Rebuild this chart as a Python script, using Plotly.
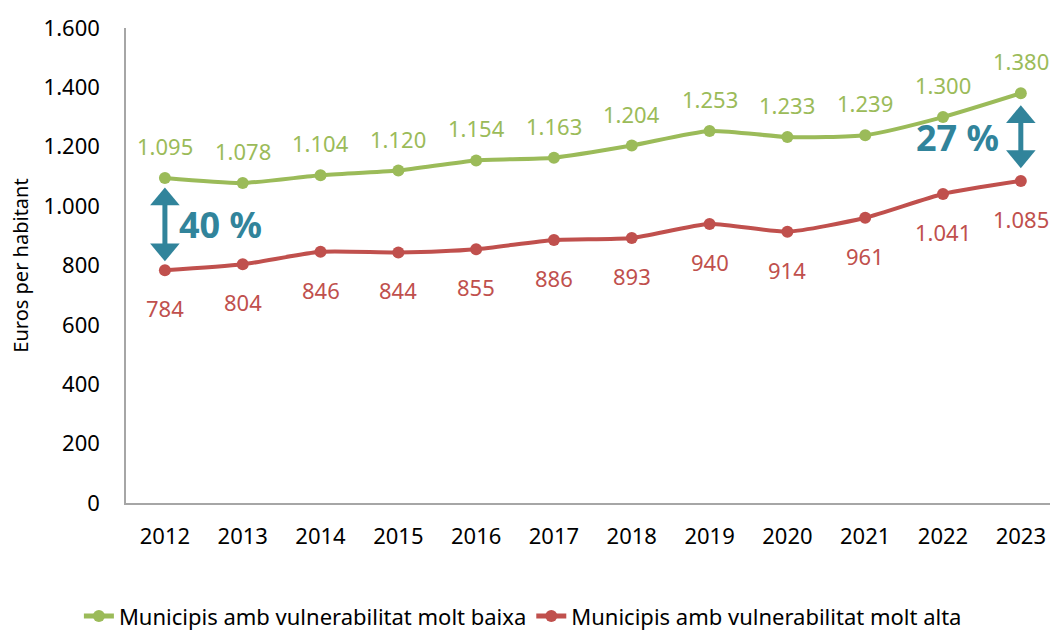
import plotly.graph_objects as go

years = ["2012", "2013", "2014", "2015", "2016", "2017", "2018", "2019", "2020", "2021", "2022", "2023"]
baixa = [1095, 1078, 1104, 1120, 1154, 1163, 1204, 1253, 1233, 1239, 1300, 1380]
alta = [784, 804, 846, 844, 855, 886, 893, 940, 914, 961, 1041, 1085]
y_ticks = [0, 200, 400, 600, 800, 1000, 1200, 1400, 1600]
y_tick_labels = ["0", "200", "400", "600", "800", "1.000", "1.200", "1.400", "1.600"]
gap_labels = ["40 %", "27 %"]

GREEN = "#9BBB59"
RED = "#C0504D"
TEAL = "#31849B"
FONT = "Noto Sans"
FS = 22

def fmt(v):
    return f"{v:,}".replace(",", ".")

xs = list(range(len(years)))

fig = go.Figure()
fig.add_trace(go.Scatter(
    x=xs, y=baixa, mode="lines+markers",
    name="Municipis amb vulnerabilitat molt baixa",
    line=dict(color=GREEN, width=4, shape="spline", smoothing=0.6),
    marker=dict(color=GREEN, size=12), cliponaxis=False,
))
fig.add_trace(go.Scatter(
    x=xs, y=alta, mode="lines+markers",
    name="Municipis amb vulnerabilitat molt alta",
    line=dict(color=RED, width=4, shape="spline", smoothing=0.6),
    marker=dict(color=RED, size=12), cliponaxis=False,
))

# data labels
for i, v in enumerate(baixa):
    fig.add_annotation(x=i, y=v, xref="x", yref="y", text=fmt(v), showarrow=False,
                       yshift=32, font=dict(color=GREEN, size=FS, family=FONT))
for i, v in enumerate(alta):
    fig.add_annotation(x=i, y=v, xref="x", yref="y", text=fmt(v), showarrow=False,
                       yshift=-38, font=dict(color=RED, size=FS, family=FONT))

# double-headed arrows showing the gap (style offsets in data units)
GAP_TOP = 32
GAP_BOT = 30
HEAD_H = 60
HEAD_HW = 0.19
shapes = []
for i in (0, len(years) - 1):
    top = baixa[i] - GAP_TOP - (8 if i else 0)
    bot = alta[i] + GAP_BOT + (13 if i else 0)
    shapes.append(dict(type="line", x0=i, x1=i, y0=bot + HEAD_H - 5, y1=top - HEAD_H + 5,
                       xref="x", yref="y", line=dict(color=TEAL, width=5)))
    shapes.append(dict(type="path", xref="x", yref="y",
                       path=f"M {i - HEAD_HW} {top - HEAD_H} L {i + HEAD_HW} {top - HEAD_H} L {i} {top} Z",
                       fillcolor=TEAL, line=dict(color=TEAL, width=0)))
    shapes.append(dict(type="path", xref="x", yref="y",
                       path=f"M {i - HEAD_HW} {bot + HEAD_H} L {i + HEAD_HW} {bot + HEAD_H} L {i} {bot} Z",
                       fillcolor=TEAL, line=dict(color=TEAL, width=0)))

fig.add_annotation(x=0.16, y=(baixa[0] + alta[0]) / 2, xref="x", yref="y",
                   text="<b>" + gap_labels[0] + "</b>", showarrow=False,
                   xanchor="left", yanchor="middle", font=dict(color=TEAL, size=36, family=FONT))
fig.add_annotation(x=10.74, y=(baixa[11] + alta[11]) / 2, xref="x", yref="y",
                   text="<b>" + gap_labels[1] + "</b>", showarrow=False,
                   xanchor="right", yanchor="middle", font=dict(color=TEAL, size=36, family=FONT))

fig.update_layout(
    width=1050, height=632,
    margin=dict(l=126, r=0, t=28, b=129),
    paper_bgcolor="white", plot_bgcolor="white",
    font=dict(family=FONT, size=FS, color="#000000"),
    showlegend=True,
    shapes=shapes,
    legend=dict(orientation="h", xref="container", yref="container",
                x=0.498, xanchor="center", y=0.025, yanchor="middle",
                itemsizing="constant",
                font=dict(size=FS, family=FONT, color="#000000"),
                traceorder="normal"),
    xaxis=dict(range=[-0.5, 11.375], tickmode="array", tickvals=xs, ticktext=years,
               showgrid=False, zeroline=False, showline=True, linecolor="#A6A6A6",
               linewidth=1.5, ticks="", ticklabelstandoff=13,
               tickfont=dict(size=FS, family=FONT, color="#000000")),
    yaxis=dict(range=[0, 1600], tickmode="array", tickvals=y_ticks, ticktext=y_tick_labels,
               showgrid=False, zeroline=False, showline=True, linecolor="#A6A6A6",
               linewidth=1.5, ticks="", ticklabelstandoff=20,
               title=dict(text="Euros per habitant", font=dict(size=20, family=FONT, color="#000000"), standoff=10),
               tickfont=dict(size=FS, family=FONT, color="#000000")),
)

fig.write_html("out.html", config={"displayModeBar": False},
               post_script="document.body.style.margin='0';document.body.style.overflow='hidden';")
